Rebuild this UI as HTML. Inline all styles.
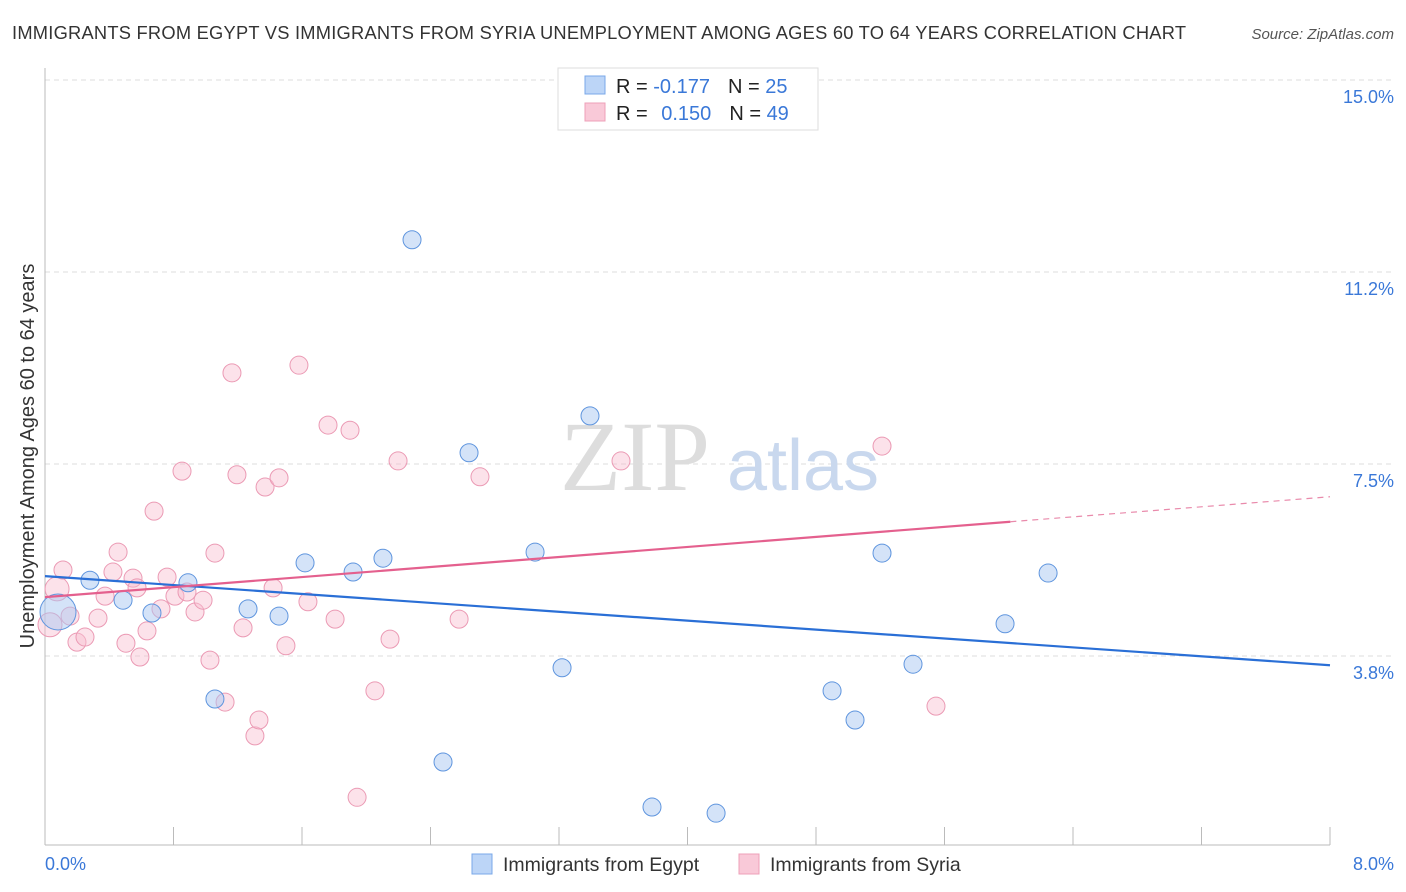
<!DOCTYPE html>
<html><head><meta charset="utf-8"><style>
body{margin:0;background:#fff;font-family:"Liberation Sans",sans-serif;}
svg{display:block}
</style></head><body>
<svg width="1406" height="892" xmlns="http://www.w3.org/2000/svg">
<text x="12" y="39" font-size="18.3" fill="#333" textLength="1174">IMMIGRANTS FROM EGYPT VS IMMIGRANTS FROM SYRIA UNEMPLOYMENT AMONG AGES 60 TO 64 YEARS CORRELATION CHART</text>
<text x="1394" y="39" font-size="15" fill="#555" font-style="italic" text-anchor="end">Source: ZipAtlas.com</text>
<g id="grid"></g>
<text x="635" y="490" font-size="100" fill="#ddd" font-family="Liberation Serif,serif" text-anchor="middle">ZIP</text>
<text x="803" y="490" font-size="72" fill="#c9d8ee" text-anchor="middle">atlas</text>
<line x1="45" y1="68" x2="45" y2="845" stroke="#bbb"/>
<line x1="45" y1="845" x2="1330" y2="845" stroke="#bbb"/>
<g id="xticks"></g>
<g id="ylabels"></g>
<text x="45" y="870" font-size="18" fill="#3a78d8">0.0%</text>
<text x="1394" y="870" font-size="18" fill="#3a78d8" text-anchor="end">8.0%</text>
<text transform="translate(34,456) rotate(-90)" font-size="20" fill="#333" text-anchor="middle">Unemployment Among Ages 60 to 64 years</text>
<g id="pts"></g>
<g id="lines"></g>
<g>
<rect x="558" y="68" width="260" height="62" fill="#fff" stroke="#ddd"/>
<rect x="585" y="76" width="20" height="18" fill="#bcd5f7" stroke="#7aa8e8"/>
<rect x="585" y="103" width="20" height="18" fill="#f9c9d8" stroke="#eea0b8"/>
<text x="616" y="93" font-size="20" fill="#222">R = <tspan fill="#3a78d8">-0.177</tspan><tspan dx="18">N = </tspan><tspan fill="#3a78d8">25</tspan></text>
<text x="616" y="120" font-size="20" fill="#222">R = <tspan fill="#3a78d8" dx="8">0.150</tspan><tspan dx="18">N = </tspan><tspan fill="#3a78d8">49</tspan></text>
</g>
<g>
<rect x="472" y="854" width="20" height="20" fill="#bcd5f7" stroke="#7aa8e8"/>
<text x="503" y="871" font-size="19.5" fill="#333">Immigrants from Egypt</text>
<rect x="739" y="854" width="20" height="20" fill="#f9c9d8" stroke="#eea0b8"/>
<text x="770" y="871" font-size="19.5" fill="#333">Immigrants from Syria</text>
</g>
</svg>
<script>
const yTicks=[15,11.25,7.5,3.75];
const yTickLabels=["15.0%","11.2%","7.5%","3.8%"];
const xTicks=[0,0.8,1.6,2.4,3.2,4.0,4.8,5.6,6.4,7.2,8];
const egyptX=[0.081,0.280,0.486,0.666,0.890,1.058,1.264,1.457,1.619,1.918,2.104,2.285,2.478,2.640,3.051,3.219,3.393,3.779,4.178,4.900,5.043,5.211,5.404,5.977,6.245];
const egyptY=[4.61,5.23,4.84,4.59,5.18,2.91,4.67,4.53,5.57,5.39,5.66,11.88,1.68,7.72,5.78,3.52,8.44,0.80,0.68,3.07,2.50,5.76,3.59,4.38,5.37];
const syriaX=[0.031,0.075,0.112,0.156,0.199,0.249,0.330,0.374,0.423,0.455,0.504,0.548,0.591,0.635,0.679,0.722,0.760,0.809,0.853,0.884,0.934,0.984,1.027,1.058,1.121,1.164,1.195,1.233,1.307,1.332,1.370,1.420,1.457,1.500,1.581,1.637,1.762,1.806,1.899,2.054,2.148,2.198,2.578,2.708,3.586,5.211,5.547,1.943,0.573];
const syriaY=[4.36,5.06,5.43,4.53,4.02,4.12,4.49,4.92,5.39,5.78,4.00,5.27,3.73,4.24,6.58,4.67,5.29,4.92,7.36,5.00,4.61,4.84,3.67,5.76,2.85,9.28,7.29,4.30,2.19,2.50,7.05,5.08,7.23,3.95,9.43,4.81,8.26,4.47,8.16,3.07,4.08,7.56,4.47,7.25,7.56,7.85,2.77,0.99,5.08];
const egyptTrend=[5.31,3.57];
const syriaTrend=[4.90,6.86];
const syriaSolidEnd=6.01;
const NS="http://www.w3.org/2000/svg";
const sx=v=>45+v/8*1285;
const sy=v=>80+(15-v)*51.2;
function mk(tag,attrs,parent){const e=document.createElementNS(NS,tag);for(const k in attrs)e.setAttribute(k,attrs[k]);parent.appendChild(e);return e;}
const grid=document.getElementById('grid'),yl=document.getElementById('ylabels'),xt=document.getElementById('xticks');
yTicks.forEach((t,i)=>{
 const l=mk('line',{x1:45,x2:1394,y1:sy(t),y2:sy(t),stroke:'#ddd','stroke-dasharray':'5,4'},grid);
 
 
 const tx=mk('text',{x:1394,y:sy(t)+23,'font-size':18,fill:'#3a78d8','text-anchor':'end'},yl);
 tx.textContent=yTickLabels[i];
 
 
});
xTicks.forEach(t=>{
 const l=mk('line',{x1:sx(t),x2:sx(t),y1:827,y2:845,stroke:'#bbb'},xt);
 
 
});
const pts=document.getElementById('pts');
syriaX.forEach((x,i)=>{
 const c=mk('circle',{cx:sx(x),cy:sy(syriaY[i]),r:i<2?12:9,fill:'rgba(249,190,208,0.45)',stroke:'#eb9ab4','stroke-width':1},pts);
 
 
});
egyptX.forEach((x,i)=>{
 const c=mk('circle',{cx:sx(x),cy:sy(egyptY[i]),r:i==0?18:9,fill:'rgba(170,200,242,0.5)',stroke:'#5f95de','stroke-width':1},pts);
 
 
});
const lines=document.getElementById('lines');
const b=mk('line',{x1:sx(0),y1:sy(egyptTrend[0]),x2:sx(8),y2:sy(egyptTrend[1]),stroke:'#2a6fd6','stroke-width':2.2},lines);


const ye=syriaTrend[0]+(syriaTrend[1]-syriaTrend[0])*syriaSolidEnd/8;
const p=mk('line',{x1:sx(0),y1:sy(syriaTrend[0]),x2:sx(syriaSolidEnd),y2:sy(ye),stroke:'#e4608e','stroke-width':2.2},lines);


const pd=mk('line',{x1:sx(syriaSolidEnd),y1:sy(ye),x2:sx(8),y2:sy(syriaTrend[1]),stroke:'#e98aab','stroke-width':1.2,'stroke-dasharray':'6,5'},lines);


</script>
</body></html>
